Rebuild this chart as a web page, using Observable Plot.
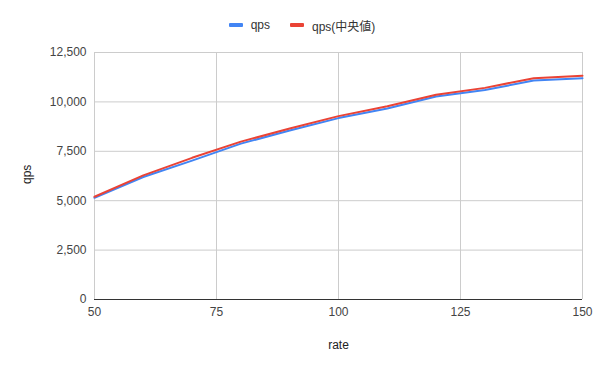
<!DOCTYPE html>
<html><head><meta charset="utf-8">
<script src="https://cdn.jsdelivr.net/npm/d3@7"></script>
<script src="https://cdn.jsdelivr.net/npm/@observablehq/plot@0.6"></script>
<style>
body{margin:0;background:#fff;font-family:"Liberation Sans",Arial,"Noto Sans CJK JP",sans-serif;}
#wrap{position:relative;width:600px;height:371px;}
#legend{position:absolute;top:16px;left:2px;width:600px;text-align:center;font-size:12px;color:#333;}
#legend span.item{display:inline-flex;align-items:center;margin:0 10px;}
#legend span.sw{display:inline-block;width:14px;height:4px;margin-right:8px;border-radius:1px;}
</style></head>
<body><div id="wrap"><div id="legend"></div><div id="chart"></div></div>
<script>
const rates = [50, 60, 70, 80, 90, 100, 110, 120, 130, 140, 150];
const qps = [5150, 6200, 7030, 7890, 8550, 9180, 9670, 10270, 10600, 11080, 11200];
const qpsMedian = [5200, 6280, 7170, 7990, 8650, 9280, 9780, 10360, 10710, 11200, 11320];
const seriesNames = ["qps", "qps(中央値)"];
const seriesColors = ["#4285F4", "#EA4335"];
const yTicks = [0, 2500, 5000, 7500, 10000, 12500];
const xTicks = [50, 75, 100, 125, 150];

const rows = [];
rates.forEach((r, i) => {
  rows.push({rate: r, value: qps[i], series: seriesNames[0]});
  rows.push({rate: r, value: qpsMedian[i], series: seriesNames[1]});
});

const legend = document.getElementById("legend");
seriesNames.forEach((n, i) => {
  const s = document.createElement("span"); s.className = "item";
  s.innerHTML = `<span class="sw" style="background:${seriesColors[i]}"></span>${n}`;
  legend.appendChild(s);
});

const chart = Plot.plot({
  width: 600, height: 371,
  marginLeft: 94, marginRight: 18, marginTop: 52, marginBottom: 72,
  style: {fontFamily: '"Liberation Sans", Arial, sans-serif', fontSize: "12px", color: "#444", background: "transparent"},
  x: {domain: [50, 150], ticks: xTicks, label: null},
  y: {domain: [0, 12500], ticks: yTicks, label: null},
  color: {domain: seriesNames, range: seriesColors},
  marks: [
    Plot.gridY(yTicks, {stroke: "#ccc", strokeOpacity: 1}),
    Plot.gridX(xTicks, {stroke: "#ccc", strokeOpacity: 1}),
    Plot.axisY(yTicks, {tickSize: 0, tickPadding: 8, tickFormat: d3.format(","), label: null, fill: "#444"}),
    Plot.axisX(xTicks, {tickSize: 0, tickPadding: 8, label: null, fill: "#444"}),
    Plot.ruleY([0], {stroke: "#333", strokeWidth: 1}),
    Plot.line(rows, {x: "rate", y: "value", z: "series", stroke: "series", strokeWidth: 2}),
    Plot.text(["rate"], {frameAnchor: "bottom", dy: 49, text: d => d, fill: "#222", fontSize: 12}),
    Plot.text(["qps"], {frameAnchor: "left", dx: -67, dy: 8, rotate: -90, text: d => d, fill: "#222", fontSize: 12})
  ]
});
document.getElementById("chart").appendChild(chart);
</script></body></html>
